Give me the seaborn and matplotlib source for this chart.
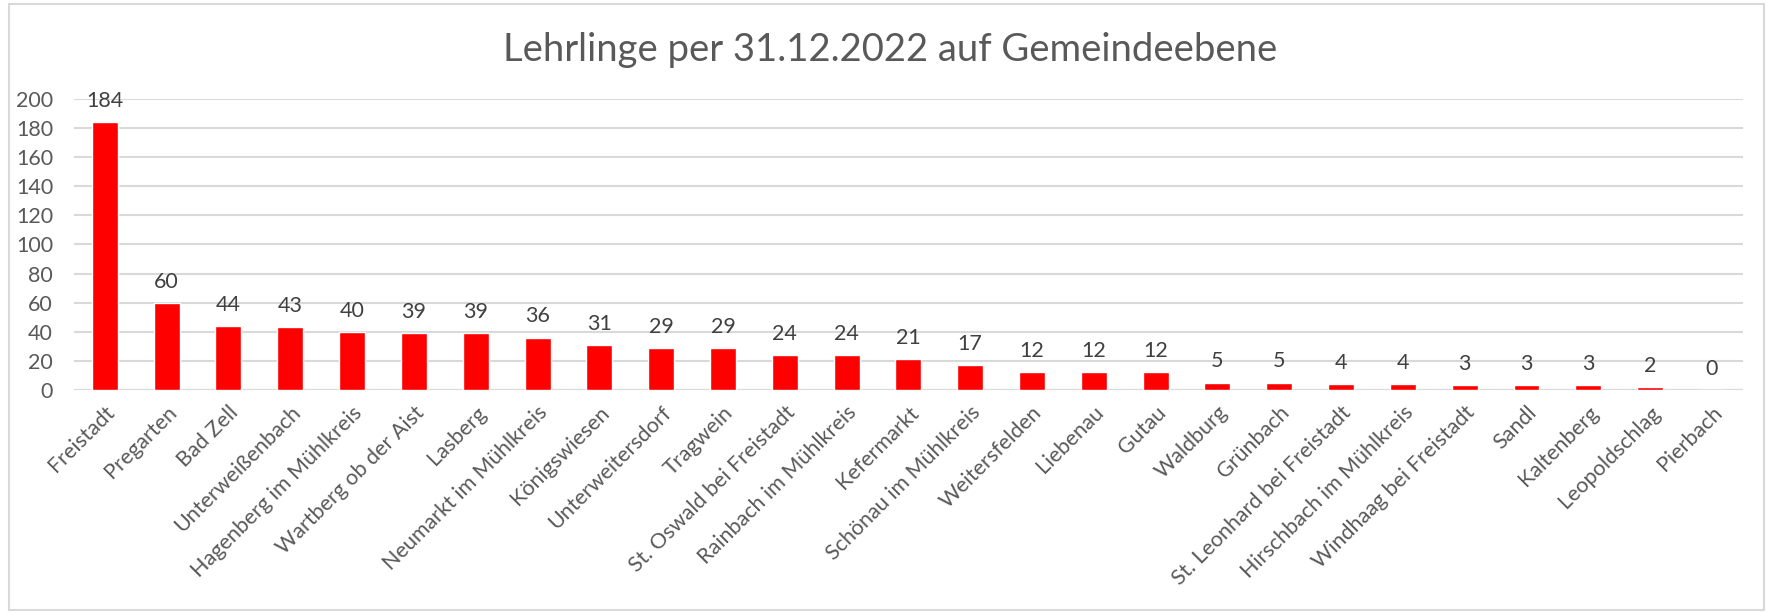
import numpy as np
import pandas as pd
import matplotlib
matplotlib.use("Agg")
import matplotlib.pyplot as plt
import seaborn as sns

# Lehrlinge je Gemeinde, Stand 31.12.2022
gemeinden = [
    "Freistadt", "Pregarten", "Bad Zell", "Unterweißenbach",
    "Hagenberg im Mühlkreis", "Wartberg ob der Aist", "Lasberg",
    "Neumarkt im Mühlkreis", "Königswiesen", "Unterweitersdorf", "Tragwein",
    "St. Oswald bei Freistadt", "Rainbach im Mühlkreis", "Kefermarkt",
    "Schönau im Mühlkreis", "Weitersfelden", "Liebenau", "Gutau", "Waldburg",
    "Grünbach", "St. Leonhard bei Freistadt", "Hirschbach im Mühlkreis",
    "Windhaag bei Freistadt", "Sandl", "Kaltenberg", "Leopoldschlag", "Pierbach",
]
lehrlinge = [184, 60, 44, 43, 40, 39, 39, 36, 31, 29, 29, 24, 24, 21, 17,
             12, 12, 12, 5, 5, 4, 4, 3, 3, 3, 2, 0]
y_ticks = list(range(0, 201, 20))

df = pd.DataFrame({"Gemeinde": gemeinden, "Lehrlinge": lehrlinge})

sns.set_theme(style="white")
plt.rcParams["font.family"] = ["Lato", "DejaVu Sans"]
TXT = "#595959"
GRID = "#d9d9d9"

fig = plt.figure(figsize=(17.73, 6.12), dpi=100)
ax = fig.add_axes([0.0417, 0.363, 0.9413, 0.475])

sns.barplot(data=df, x="Gemeinde", y="Lehrlinge", color="#ff0000",
            saturation=1, width=0.42, ax=ax, zorder=3)

ax.set_ylim(0, 200)
ax.set_yticks(y_ticks)
ax.set_xlim(-0.5, len(gemeinden) - 0.5)
ax.yaxis.grid(True, color=GRID, lw=1.5, zorder=0)
ax.set_axisbelow(True)
for s in ax.spines.values():
    s.set_visible(False)
ax.axhline(0, color=GRID, lw=1.5, zorder=1)

ax.set_xlabel("")
ax.set_ylabel("")
ax.tick_params(axis="y", length=0, labelsize=15.5, labelcolor=TXT, pad=15)
ax.tick_params(axis="x", length=0, labelsize=15.5, labelcolor=TXT, pad=9)
plt.setp(ax.get_xticklabels(), rotation=45, ha="right", rotation_mode="anchor")

for i, v in enumerate(lehrlinge):
    ax.annotate(str(v), (i, v), xytext=(0, 8), textcoords="offset points",
                ha="center", va="bottom", fontsize=15.5, color="#404040")

fig.text(0.502, 0.918, "Lehrlinge per 31.12.2022 auf Gemeindeebene",
         ha="center", va="center", fontsize=27.5, color=TXT)

# light frame around the chart
fig.patches.append(plt.Rectangle((0.005, 0.004), 0.99, 0.99, transform=fig.transFigure,
                                 fill=False, ec=GRID, lw=1.5))

fig.savefig("out.png", dpi=100)
